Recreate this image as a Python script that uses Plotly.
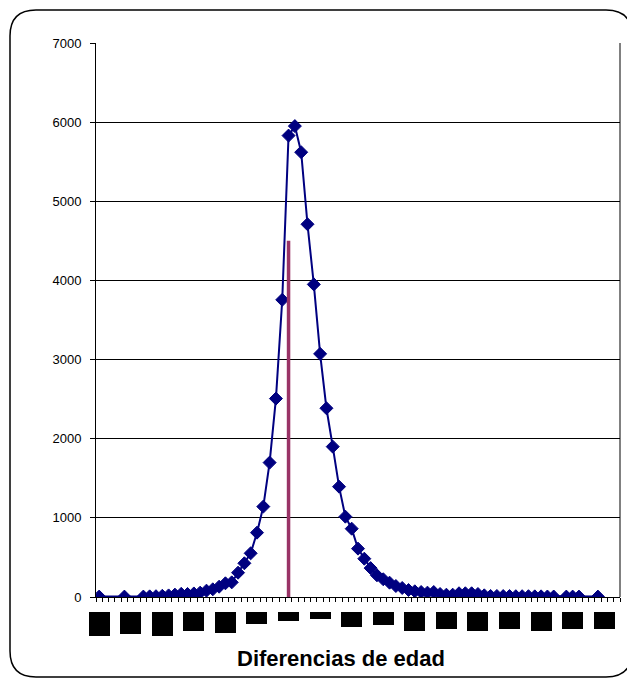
import plotly.graph_objects as go

# ---- data ----
diferencias = [-30, -26] + list(range(-23, 43)) + [44, 45, 46, 49]
frecuencias = [5, 5,
               5, 8, 10, 15, 20, 30, 40, 38, 45, 55, 80, 97, 130, 173, 185, 307, 426, 552,
               813, 1142, 1698, 2507, 3755, 5830, 5950, 5620, 4710, 3950, 3072, 2385,
               1900, 1394, 1015, 863, 611, 484, 365, 274, 224, 181, 139, 114, 88, 72,
               63, 55, 63, 38, 29, 29, 47, 47, 47, 38, 21, 13, 13, 12, 12, 10, 10, 10,
               8, 8, 6, 6,
               5, 5, 5, 5]
ref_x = [0, 0]
ref_y = [0, 4500]
x_tick_vals = list(range(-30, 51, 5))
x_tick_text = [str(v) for v in x_tick_vals]
y_tick_vals = list(range(0, 7001, 1000))

# ---- styles (not data) ----
block_heights = [24, 22, 24, 19, 21, 12, 9, 7, 15, 13, 19, 17, 19, 17, 19, 17, 17]

OFF = 8  # page body margin
W, H = 635 - OFF, 680 - OFF
L, R, T, B = 96 - OFF, 620 - OFF, 43 - OFF, 597 - OFF

def px(x):
    return (x - OFF - L) / (R - L)

def py(y):
    return (B - (y - OFF)) / (B - T)

fig = go.Figure()
fig.add_trace(go.Scatter(
    x=diferencias, y=frecuencias, mode="lines+markers",
    line=dict(color="#000080", width=2),
    marker=dict(symbol="diamond", size=10, color="#000080",
                line=dict(color="#000080", width=1)),
    showlegend=False, hoverinfo="x+y"))
fig.add_trace(go.Scatter(
    x=ref_x, y=ref_y, mode="lines",
    line=dict(color="#993366", width=3.5),
    showlegend=False, hoverinfo="skip"))

# rounded chart border
x0, x1, y0, y1, r = 10, 632, 10, 677, 26
path = (f"M {px(x0 + r)},{py(y0)} L {px(x1 - r)},{py(y0)} "
        f"Q {px(x1)},{py(y0)} {px(x1)},{py(y0 + r)} "
        f"L {px(x1)},{py(y1 - r)} Q {px(x1)},{py(y1)} {px(x1 - r)},{py(y1)} "
        f"L {px(x0 + r)},{py(y1)} Q {px(x0)},{py(y1)} {px(x0)},{py(y1 - r)} "
        f"L {px(x0)},{py(y0 + r)} Q {px(x0)},{py(y0)} {px(x0 + r)},{py(y0)} Z")
shapes = [
    dict(type="path", xref="paper", yref="paper", path=path,
         line=dict(color="#000000", width=1.5), layer="below"),
    dict(type="line", xref="paper", yref="paper", x0=1, x1=1, y0=0, y1=1,
         line=dict(color="#808080", width=2), layer="below"),
]

annotations = []
for v, t, h in zip(x_tick_vals, x_tick_text, block_heights):
    annotations.append(dict(
        x=v, xref="x", y=py(612), yref="paper", yanchor="top", xanchor="center",
        text=t, showarrow=False, width=21, height=h, bgcolor="#000000",
        borderpad=0, borderwidth=0,
        font=dict(color="#000000", size=8, family="Liberation Sans")))
annotations.append(dict(
    x=px(341), y=py(658), xref="paper", yref="paper",
    xanchor="center", yanchor="middle", showarrow=False,
    text="<b>Diferencias de edad</b>",
    font=dict(family="Liberation Sans, Arial", size=22, color="#000000")))

fig.update_layout(
    width=W, height=H,
    margin=dict(l=L, r=W - R, t=T, b=H - B),
    paper_bgcolor="#ffffff", plot_bgcolor="#ffffff",
    font=dict(family="Liberation Sans, Arial", color="#000000", size=13),
    shapes=shapes, annotations=annotations,
    xaxis=dict(range=[-30.5, 52.5], tick0=-30.5, dtick=1, ticks="outside",
               ticklen=4, tickcolor="#000000", tickwidth=1,
               showticklabels=False, showgrid=False, zeroline=False,
               showline=True, linecolor="#000000", linewidth=1),
    yaxis=dict(range=[0, 7000], tickvals=y_tick_vals, ticks="outside",
               ticklen=5, tickcolor="#000000", showgrid=True,
               gridcolor="#000000", gridwidth=1, zeroline=False,
               showline=True, linecolor="#000000", linewidth=1,
               ticklabelstandoff=6, tickfont=dict(size=13)),
)

fig.write_html("out.html")
